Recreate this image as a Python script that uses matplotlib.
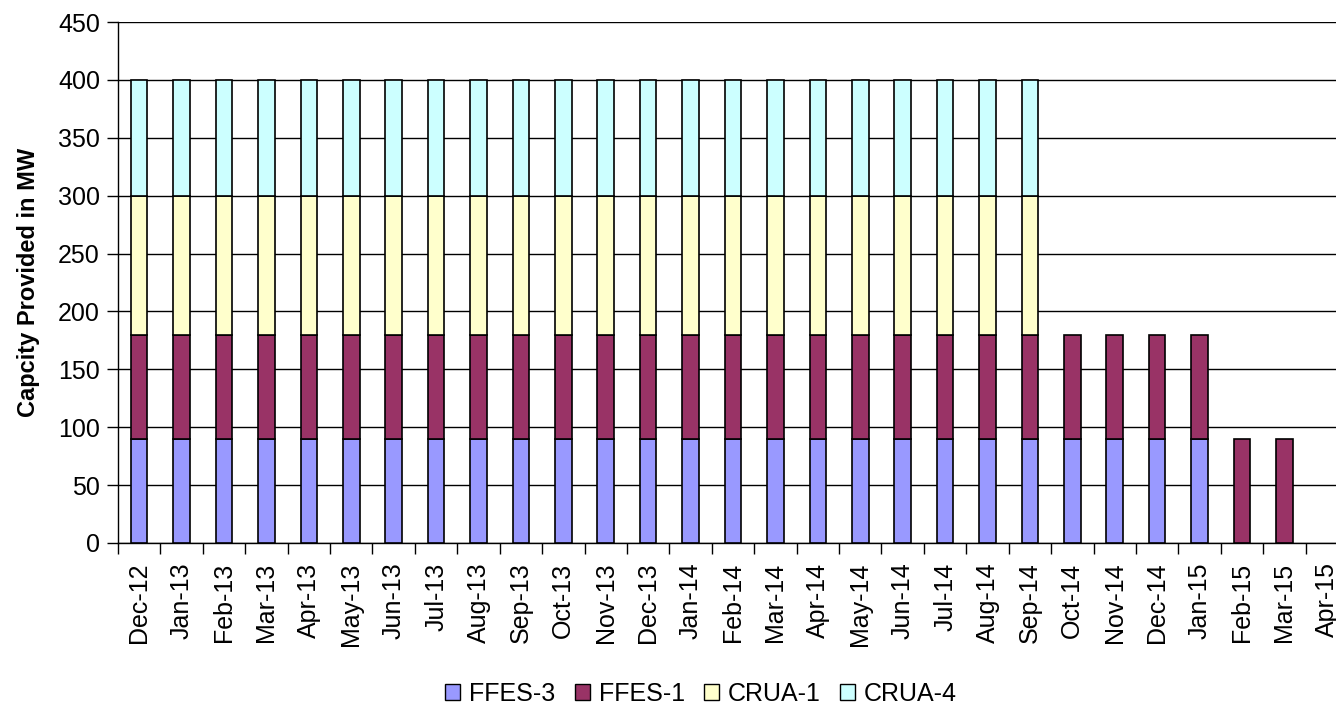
import numpy as np
import matplotlib
matplotlib.use("Agg")
import matplotlib.pyplot as plt
from matplotlib.patches import Patch

plt.rcParams['font.family'] = ['Liberation Sans', 'DejaVu Sans']

months = ["Dec-12", "Jan-13", "Feb-13", "Mar-13", "Apr-13", "May-13", "Jun-13",
          "Jul-13", "Aug-13", "Sep-13", "Oct-13", "Nov-13", "Dec-13", "Jan-14",
          "Feb-14", "Mar-14", "Apr-14", "May-14", "Jun-14", "Jul-14", "Aug-14",
          "Sep-14", "Oct-14", "Nov-14", "Dec-14", "Jan-15", "Feb-15", "Mar-15",
          "Apr-15"]

ffes3 = [90] * 26 + [0, 0, 0]
ffes1 = [90] * 28 + [0]
crua1 = [120] * 22 + [0] * 7
crua4 = [100] * 22 + [0] * 7

series_names = ["FFES-3", "FFES-1", "CRUA-1", "CRUA-4"]
series_values = [ffes3, ffes1, crua1, crua4]
series_colors = ["#9999FF", "#993366", "#FFFFCC", "#CCFFFF"]

fig = plt.figure(figsize=(13.36, 7.06), dpi=100)
ax = fig.add_axes([118 / 1336, 163 / 706, 1230 / 1336, 521 / 706])

x = np.arange(len(months))
bottom = np.zeros(len(months))
for name, vals, col in zip(series_names, series_values, series_colors):
    vals = np.asarray(vals, dtype=float)
    keep = vals > 0
    ax.bar(x[keep], vals[keep], width=0.39, bottom=bottom[keep], color=col,
           edgecolor="black", linewidth=1.2, zorder=3)
    bottom += vals

ax.set_xlim(-0.5, len(months) - 0.5)
ax.set_ylim(0, 450)
ax.set_yticks(np.arange(0, 451, 50))
ax.yaxis.grid(True, color="black", linewidth=1.0, zorder=0)
ax.set_axisbelow(True)

ax.set_xticks(x)
ax.set_xticklabels(months, rotation=90, fontsize=18)
ax.tick_params(axis="x", which="major", length=0, pad=14)
ax.set_xticks(np.arange(-0.5, len(months)), minor=True)
ax.tick_params(axis="x", which="minor", length=8, width=1, color="black")
ax.tick_params(axis="y", length=8, width=1, labelsize=18, pad=5)

for side in ("top", "right"):
    ax.spines[side].set_visible(False)
for side in ("left", "bottom"):
    ax.spines[side].set_color("black")
    ax.spines[side].set_linewidth(1.0)

ax.set_ylabel("Capcity Provided in MW", fontsize=17, fontweight="bold", labelpad=13)

handles = [Patch(facecolor=c, edgecolor="black", linewidth=1.0) for c in series_colors]
fig.legend(handles, series_names, loc="center", bbox_to_anchor=(701 / 1336, 1 - 694 / 706),
           ncol=4, frameon=False, fontsize=18, handlelength=0.6, handleheight=0.6,
           handletextpad=0.36, columnspacing=0.76, borderpad=0)

fig.savefig("out.png", dpi=100)
